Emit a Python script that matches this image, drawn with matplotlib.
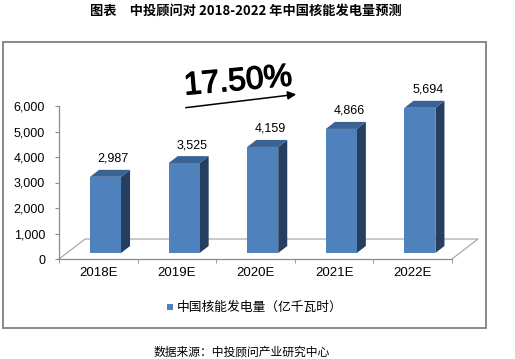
import matplotlib
matplotlib.use('Agg')
import matplotlib.pyplot as plt
import matplotlib.patheffects as pe
from matplotlib.patches import Polygon, Rectangle, FancyArrowPatch

plt.rcParams['font.family'] = ['Liberation Sans', 'Noto Sans CJK SC', 'DejaVu Sans']

# data
years = ['2018E', '2019E', '2020E', '2021E', '2022E']
output = [2987, 3525, 4159, 4866, 5694]
yticks = [0, 1000, 2000, 3000, 4000, 5000, 6000]
growth_label = '17.50%'
series_name = '中国核能发电量（亿千瓦时）'
title = '图表　中投顾问对 2018-2022 年中国核能发电量预测'
source = '数据来源：中投顾问产业研究中心'

W, H = 515, 359
fig = plt.figure(figsize=(W / 100, H / 100), dpi=100)

def fx(px):
    return px / W

def fy(py):
    return 1 - py / H

# chart frame
fig.patches.append(Rectangle((fx(3), fy(328)), fx(486) - fx(3), fy(42) - fy(328),
                             transform=fig.transFigure, fill=False,
                             edgecolor='#808080', lw=1.3))

ax = fig.add_axes([fx(59), fy(259), fx(452) - fx(59), fy(106) - fy(259)])
ax.set_xlim(-0.5, 4.5)
ax.set_ylim(0, 6000)
ax.patch.set_alpha(0)

grey = '#8c8c8c'
for s in ['top', 'right']:
    ax.spines[s].set_visible(False)
for s in ['left', 'bottom']:
    ax.spines[s].set_color(grey)
    ax.spines[s].set_linewidth(0.9)

ax.set_yticks(yticks)
ax.set_yticklabels([f'{v:,}' for v in yticks], fontsize=9)
ax.set_xticks(range(len(years)))
ax.set_xticklabels(years, fontsize=9.5)
ax.set_xticks([i - 0.5 for i in range(len(years) + 1)], minor=True)
ax.tick_params(axis='x', which='major', length=0, pad=6)
ax.tick_params(axis='x', which='minor', length=3, color=grey, direction='out')
ax.tick_params(axis='y', length=3, color=grey, pad=7)

# floor
fdx, fdy = 0.331, 784
floor = [(-0.5, 0), (-0.5 + fdx, fdy), (4.5 + fdx, fdy), (4.5, 0)]
ax.plot([p[0] for p in floor], [p[1] for p in floor], color='#a0a0a0', lw=0.8,
        clip_on=False, zorder=1)

# 3d bars
off_x, off_y = 0.092, 235
bw = 0.394
ddx, ddy = 0.115, 275
front_c, top_c, side_c = '#4F81BD', '#3A6294', '#263F60'
for i, v in enumerate(output):
    x0 = i + off_x - bw / 2
    x1 = x0 + bw
    y0 = off_y
    y1 = off_y + v
    ax.add_patch(Polygon([(x1, y0), (x1 + ddx, y0 + ddy), (x1 + ddx, y1 + ddy), (x1, y1)],
                         closed=True, facecolor=side_c, edgecolor='none', clip_on=False, zorder=3))
    ax.add_patch(Polygon([(x0, y1), (x0 + ddx, y1 + ddy), (x1 + ddx, y1 + ddy), (x1, y1)],
                         closed=True, facecolor=top_c, edgecolor='none', clip_on=False, zorder=3))
    ax.add_patch(Rectangle((x0, y0), bw, v, facecolor=front_c, edgecolor='none',
                           clip_on=False, zorder=4))
    ax.text(i + off_x + 0.1, y1 + ddy + 430, f'{v:,}', ha='center', va='center',
            fontsize=9, clip_on=False)

# growth annotation
fig.text(fx(238), fy(82), growth_label, ha='center', va='center', fontsize=23,
         rotation=5, rotation_mode='anchor',
         path_effects=[pe.withStroke(linewidth=0.9, foreground='black')])
fig.patches.append(FancyArrowPatch(
    (fx(183), fy(108)), (fx(299), fy(94)), transform=fig.transFigure,
    arrowstyle='-|>,head_length=5,head_width=2.5', color='black', lw=1.1))

# legend
fig.patches.append(Rectangle((fx(167), fy(310)), fx(6), fy(304) - fy(310),
                             transform=fig.transFigure, facecolor=front_c, edgecolor='none'))
fig.text(fx(177), fy(307), series_name, ha='left', va='center', fontsize=9.2,
         family=['Noto Sans CJK SC', 'DejaVu Sans'])

# title and source
fig.text(fx(246), fy(11), title, ha='center', va='center', fontsize=9.5,
         fontweight='bold', family=['Noto Sans CJK SC', 'DejaVu Sans'])
fig.text(fx(242), fy(352), source, ha='center', va='center', fontsize=8.5,
         family=['Noto Sans CJK SC', 'DejaVu Sans'])

fig.savefig('out.png', dpi=100)
